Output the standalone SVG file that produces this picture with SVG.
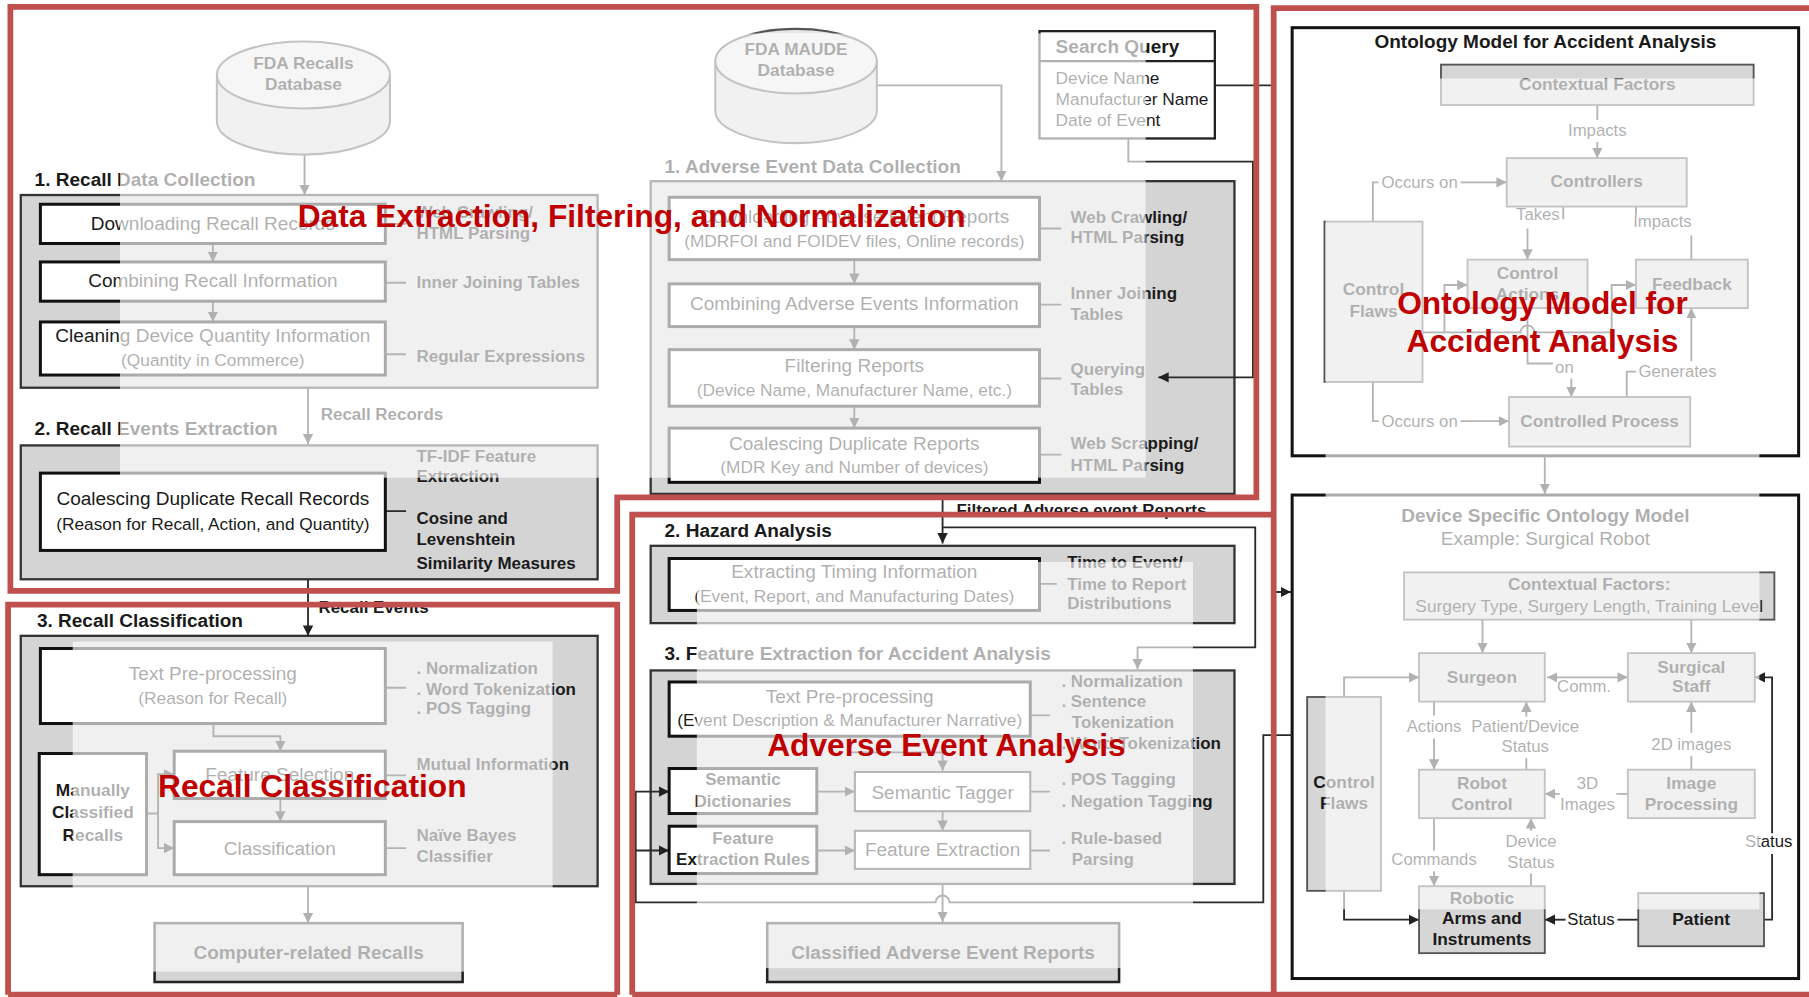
<svg xmlns="http://www.w3.org/2000/svg" width="1809" height="997" viewBox="0 0 1809 997">
<defs>
<marker id="ah" viewBox="0 0 10 10" refX="10" refY="5" markerWidth="9" markerHeight="9" markerUnits="userSpaceOnUse" orient="auto-start-reverse"><path d="M0,0 L10,5 L0,10 z" fill="#222"/></marker>
<style>
.t{font-family:"Liberation Sans",Arial,Helvetica,sans-serif;fill:#1a1a1a}
.c{text-anchor:middle}
.p{font-size:16.5px}
.ps{font-size:15px}
.s{font-size:14.7px;font-weight:bold}
.h{font-size:16.5px;font-weight:bold}
.n{font-size:15px;font-weight:bold}
.e{font-size:14.5px}
.ctr{fill:#d4d4d4;stroke:#333;stroke-width:2}
.box{fill:#fff;stroke:#333;stroke-width:1.8}
.bbox{fill:#fff;stroke:#111;stroke-width:2.6}
.gbox{fill:#d4d4d4;stroke:#222;stroke-width:2.2}
.on{fill:#d6d6d6;stroke:#555;stroke-width:1.6}
.ob{fill:none;stroke:#111;stroke-width:2.6}
.ln{fill:none;stroke:#2a2a2a;stroke-width:1.6}
.la{fill:none;stroke:#2a2a2a;stroke-width:1.6;marker-end:url(#ah)}
.ov{fill:#fff;fill-opacity:0.65}
.rf{fill:none;stroke:#c0504d;stroke-width:5}
.rt{font-family:"Liberation Sans",Arial,Helvetica,sans-serif;font-weight:bold;font-size:27.5px;fill:#c00000}
</style>
</defs>
<rect width="1809" height="997" fill="#fff"/>
<g transform="scale(1.15370 1.15394)">

<!-- section containers (drawn first so connectors stay visible) -->
<g id="recall-data-collection">
<text class="t h" x="30" y="161">1. Recall Data Collection</text>
<rect class="ctr" x="18" y="169" width="500" height="167"/>
</g>
<g id="recall-events-extraction">
<text class="t h" x="30" y="377">2. Recall Events Extraction</text>
<rect class="ctr" x="18" y="386" width="500" height="116"/>
</g>
<g id="recall-classification">
<text class="t h" x="32" y="543">3. Recall Classification</text>
<rect class="ctr" x="18" y="551" width="500" height="217"/>
</g>
<g id="adverse-event-data-collection">
<text class="t h" x="576" y="150">1. Adverse Event Data Collection</text>
<rect class="ctr" x="564" y="157" width="506" height="271"/>
</g>
<g id="hazard-analysis">
<text class="t h" x="576" y="465">2. Hazard Analysis</text>
<rect class="ctr" x="564" y="473" width="506" height="67"/>
</g>
<g id="feature-extraction-section">
<text class="t h" x="576" y="572">3. Feature Extraction for Accident Analysis</text>
<rect class="ctr" x="564" y="581" width="506" height="185"/>
</g>
<g id="ontology-model">
<rect class="ob" x="1120" y="24" width="439" height="371"/>
<text class="t c h" x="1339.5" y="42">Ontology Model for Accident Analysis</text>
</g>
<g id="device-specific-ontology">
<rect class="ob" x="1120" y="429" width="439" height="419"/>
<text class="t c h" x="1339.5" y="452">Device Specific Ontology Model</text>
<text class="t c p" x="1339.5" y="472">Example: Surgical Robot</text>
</g>

<g id="connectors">
<!-- recall column -->
<path class="la" d="M264,134 V169"/>
<path class="la" d="M184.5,211 V227"/>
<path class="la" d="M184.5,261 V279"/>
<path class="ln" d="M334,194 H352 M334,245 H352 M334,307 H352 M334,443 H352 M334,596 H352 M334,672 H352 M334,735 H352"/>
<path class="la" d="M267,336 V385"/>
<path class="la" d="M267,502 V551"/>
<path class="la" d="M185,627 V638 H243 V651"/>
<path class="la" d="M243,692 V712"/>
<path class="la" d="M127,705 H137 V671 H151"/>
<path class="la" d="M137,705 V735 H151"/>
<path class="la" d="M267,768 V800"/>
<!-- adverse event column -->
<path class="la" d="M760,74 H868 V157"/>
<path class="la" d="M740.5,225 V246"/>
<path class="la" d="M740.5,283 V303"/>
<path class="la" d="M740.5,352 V371"/>
<path class="ln" d="M901,198 H920 M901,264 H920 M901,328 H920 M901,394 H920 M901,506 H916 M893,620 H910 M893,686 H910 M893,737 H910"/>
<path class="la" d="M978,120 V140 H1086 V327 H1004"/>
<path class="la" d="M1053,74 H1104 V513 H1119"/>
<path class="la" d="M817,428 V471"/>
<path class="la" d="M817,457 H1088 V561 H986 V580"/>
<path class="la" d="M737,638 V652 H817 V668"/>
<path class="la" d="M708,686 H741"/>
<path class="la" d="M817,703 V720"/>
<path class="la" d="M708,737 H741"/>
<path class="la" d="M1120,637 H1095 V782 H823 A6,6 0 0 0 811,782 H551 V686 H580"/>
<path class="la" d="M551,737 H580"/>
<path class="la" d="M817,766 V799"/>
<!-- ontology model -->
<path class="ln" d="M1384.5,91 V104"/>
<path class="la" d="M1384.5,123 V137"/>
<path class="ln" d="M1190,192 V158 H1195"/>
<path class="la" d="M1266,158 H1306"/>
<path class="ln" d="M1355,164 V190"/>
<path class="la" d="M1324,198 V225"/>
<path class="ln" d="M1466,225 V204"/>
<path class="la" d="M1418,186 V166"/>
<path class="la" d="M1233,288 H1252 V247 H1272"/>
<path class="la" d="M1252,288 H1318 A6,6 0 0 1 1330,288 H1397 V247 H1418"/>
<path class="ln" d="M1324,267 V315 H1346"/>
<path class="la" d="M1362,328 V344"/>
<path class="ln" d="M1410,344 V322 H1418"/>
<path class="la" d="M1466,313 V267"/>
<path class="ln" d="M1190,331 V365 H1195"/>
<path class="la" d="M1266,365 H1308"/>
<path class="la" d="M1339,395 V428"/>
<!-- device specific model -->
<path class="la" d="M1285,537 V566"/>
<path class="la" d="M1466,537 V566"/>
<path class="la" d="M1341,587 H1411" marker-start="url(#ah)"/>
<path class="la" d="M1165,604 V587 H1230"/>
<path class="la" d="M1165,772 V797 H1230"/>
<path class="ln" d="M1243,608 V620"/>
<path class="la" d="M1243,640 V667"/>
<path class="ln" d="M1323,667 V657"/>
<path class="la" d="M1323,621 V608"/>
<path class="ln" d="M1466,667 V655"/>
<path class="la" d="M1466,635 V608"/>
<path class="ln" d="M1411,688 H1401"/>
<path class="la" d="M1352,688 H1339"/>
<path class="ln" d="M1243,709 V737"/>
<path class="la" d="M1243,755 V768"/>
<path class="ln" d="M1327,768 V757"/>
<path class="la" d="M1327,720 V709"/>
<path class="ln" d="M1420,797 H1402"/>
<path class="la" d="M1357,797 H1339"/>
<path class="ln" d="M1529,797 H1536 V740"/>
<path class="la" d="M1536,722 V587 H1521"/>
</g>

<g id="fda-recalls-database">
<path d="M188,65 V105 A75,29 0 0 0 338,105 V65" fill="#d8d8d8" stroke="#555" stroke-width="1.8"/>
<ellipse cx="263" cy="65" rx="75" ry="29" fill="#e6e6e6" stroke="#555" stroke-width="1.8"/>
<text class="t c n" x="263" y="60">FDA Recalls</text>
<text class="t c n" x="263" y="78">Database</text>
</g>
<g id="downloading-recall-records">
<rect class="bbox" x="35" y="177" width="299" height="34"/>
<text class="t c p" x="184.5" y="199">Downloading Recall Records</text>
<text class="t s" x="361" y="189">Web Crawling/</text>
<text class="t s" x="361" y="207">HTML Parsing</text>
</g>
<g id="combining-recall-information">
<rect class="bbox" x="35" y="227" width="299" height="34"/>
<text class="t c p" x="184.5" y="249">Combining Recall Information</text>
<text class="t s" x="361" y="250">Inner Joining Tables</text>
</g>
<g id="cleaning-device-quantity">
<rect class="bbox" x="35" y="279" width="299" height="46"/>
<text class="t c p" x="184.5" y="296">Cleaning Device Quantity Information</text>
<text class="t c ps" x="184.5" y="317">(Quantity in Commerce)</text>
<text class="t s" x="361" y="314">Regular Expressions</text>
</g>
<text class="t s" x="278" y="364">Recall Records</text>
<g id="coalescing-recall-records">
<rect class="bbox" x="35" y="410" width="299" height="67"/>
<text class="t c p" x="184.5" y="438">Coalescing Duplicate Recall Records</text>
<text class="t c ps" x="184.5" y="459">(Reason for Recall, Action, and Quantity)</text>
<text class="t s" x="361" y="400">TF-IDF Feature</text>
<text class="t s" x="361" y="418">Extraction</text>
<text class="t s" x="361" y="454">Cosine and</text>
<text class="t s" x="361" y="472">Levenshtein</text>
<text class="t s" x="361" y="493">Similarity Measures</text>
</g>
<text class="t s" x="276" y="531">Recall Events</text>
<g id="text-preprocessing-recall">
<rect class="bbox" x="35" y="562" width="299" height="65"/>
<text class="t c p" x="184.5" y="589">Text Pre-processing</text>
<text class="t c ps" x="184.5" y="610">(Reason for Recall)</text>
<text class="t s" x="361" y="584">. Normalization</text>
<text class="t s" x="361" y="602">. Word Tokenization</text>
<text class="t s" x="361" y="619">. POS Tagging</text>
</g>
<g id="manually-classified-recalls">
<rect class="bbox" x="34" y="653" width="93" height="105"/>
<text class="t c n" x="80.5" y="690">Manually</text>
<text class="t c n" x="80.5" y="709">Classified</text>
<text class="t c n" x="80.5" y="729">Recalls</text>
</g>
<g id="feature-selection">
<rect class="bbox" x="151" y="651" width="183" height="41"/>
<text class="t c p" x="242.5" y="677">Feature Selection</text>
<text class="t s" x="361" y="667">Mutual Information</text>
</g>
<g id="classification">
<rect class="bbox" x="151" y="712" width="183" height="46"/>
<text class="t c p" x="242.5" y="741">Classification</text>
<text class="t s" x="361" y="729">Naïve Bayes</text>
<text class="t s" x="361" y="747">Classifier</text>
</g>
<g id="computer-related-recalls">
<rect class="gbox" x="134" y="800" width="267" height="51"/>
<text class="t c h" x="267.5" y="831">Computer-related Recalls</text>
</g>

<g id="fda-maude-database">
<path d="M620,53 V96 A70,28 0 0 0 760,96 V53" fill="#d8d8d8" stroke="#555" stroke-width="1.8"/>
<ellipse cx="690" cy="53" rx="70" ry="28" fill="#e6e6e6" stroke="#555" stroke-width="1.8"/>
<text class="t c n" x="690" y="48">FDA MAUDE</text>
<text class="t c n" x="690" y="66">Database</text>
</g>
<g id="search-query">
<rect x="901" y="27" width="152" height="93" fill="#fff" stroke="#222" stroke-width="2"/>
<path d="M901,53 H1053" stroke="#222" stroke-width="2"/>
<text class="t h" x="915" y="46">Search Query</text>
<text class="t ps" x="915" y="73">Device Name</text>
<text class="t ps" x="915" y="91">Manufacturer Name</text>
<text class="t ps" x="915" y="109">Date of Event</text>
</g>
<g id="downloading-adverse-event-reports">
<rect class="bbox" x="580" y="171" width="321" height="54"/>
<text class="t c p" x="740.5" y="193">Downloading Adverse Event Reports</text>
<text class="t c ps" x="740.5" y="214">(MDRFOI and FOIDEV files, Online records)</text>
<text class="t s" x="928" y="193">Web Crawling/</text>
<text class="t s" x="928" y="211">HTML Parsing</text>
</g>
<g id="combining-adverse-events">
<rect class="bbox" x="580" y="246" width="321" height="37"/>
<text class="t c p" x="740.5" y="269">Combining Adverse Events Information</text>
<text class="t s" x="928" y="259">Inner Joining</text>
<text class="t s" x="928" y="277">Tables</text>
</g>
<g id="filtering-reports">
<rect class="bbox" x="580" y="303" width="321" height="49"/>
<text class="t c p" x="740.5" y="322">Filtering Reports</text>
<text class="t c ps" x="740.5" y="343">(Device Name, Manufacturer Name, etc.)</text>
<text class="t s" x="928" y="325">Querying</text>
<text class="t s" x="928" y="342">Tables</text>
</g>
<g id="coalescing-duplicate-reports">
<rect class="bbox" x="580" y="371" width="321" height="47"/>
<text class="t c p" x="740.5" y="390">Coalescing Duplicate Reports</text>
<text class="t c ps" x="740.5" y="410">(MDR Key and Number of devices)</text>
<text class="t s" x="928" y="389">Web Scrapping/</text>
<text class="t s" x="928" y="408">HTML Parsing</text>
</g>
<text class="t s" x="829" y="447">Filtered Adverse event Reports</text>
<g id="extracting-timing-information">
<rect class="bbox" x="580" y="484" width="321" height="45"/>
<text class="t c p" x="740.5" y="501">Extracting Timing Information</text>
<text class="t c ps" x="740.5" y="522">(Event, Report, and Manufacturing Dates)</text>
<text class="t s" x="925" y="492">Time to Event/</text>
<text class="t s" x="925" y="511">Time to Report</text>
<text class="t s" x="925" y="528">Distributions</text>
</g>
<g id="text-preprocessing-events">
<rect class="bbox" x="580" y="591" width="313" height="47"/>
<text class="t c p" x="736.5" y="609">Text Pre-processing</text>
<text class="t c ps" x="736.5" y="629">(Event Description &amp; Manufacturer Narrative)</text>
<text class="t s" x="920" y="595">. Normalization</text>
<text class="t s" x="920" y="613">. Sentence</text>
<text class="t s" x="929" y="631">Tokenization</text>
<text class="t s" x="920" y="649">. Word Tokenization</text>
</g>
<g id="semantic-dictionaries">
<rect class="bbox" x="580" y="666" width="128" height="39"/>
<text class="t c s" x="644" y="680">Semantic</text>
<text class="t c s" x="644" y="699">Dictionaries</text>
</g>
<g id="semantic-tagger">
<rect class="box" x="741" y="669" width="152" height="34"/>
<text class="t c p" x="817" y="692">Semantic Tagger</text>
<text class="t s" x="920" y="680">. POS Tagging</text>
<text class="t s" x="920" y="699">. Negation Tagging</text>
</g>
<g id="feature-extraction-rules">
<rect class="bbox" x="580" y="716" width="128" height="41"/>
<text class="t c s" x="644" y="731">Feature</text>
<text class="t c s" x="644" y="750">Extraction Rules</text>
</g>
<g id="feature-extraction">
<rect class="box" x="741" y="720" width="152" height="33"/>
<text class="t c p" x="817" y="742">Feature Extraction</text>
<text class="t s" x="920" y="731">. Rule-based</text>
<text class="t s" x="929" y="750">Parsing</text>
</g>
<g id="classified-adverse-event-reports">
<rect class="gbox" x="665" y="800" width="305" height="51"/>
<text class="t c h" x="817.5" y="831">Classified Adverse Event Reports</text>
</g>

<g id="contextual-factors">
<rect class="on" x="1249" y="56" width="271" height="35"/>
<text class="t c n" x="1384.5" y="78">Contextual Factors</text>
</g>
<text class="t c e" x="1384.5" y="118">Impacts</text>
<g id="controllers">
<rect class="on" x="1306" y="137" width="156" height="42"/>
<text class="t c n" x="1384" y="162">Controllers</text>
</g>
<text class="t c e" x="1230.5" y="163">Occurs on</text>
<text class="t c e" x="1333" y="191">Takes</text>
<text class="t c e" x="1441" y="197">Impacts</text>
<g id="control-flaws">
<rect class="on" x="1148" y="192" width="85" height="139"/>
<text class="t c n" x="1190.5" y="256">Control</text>
<text class="t c n" x="1190.5" y="275">Flaws</text>
</g>
<g id="control-actions">
<rect class="on" x="1272" y="225" width="104" height="42"/>
<text class="t c n" x="1324" y="242">Control</text>
<text class="t c n" x="1324" y="260">Actions</text>
</g>
<g id="feedback">
<rect class="on" x="1418" y="225" width="97" height="42"/>
<text class="t c n" x="1466.5" y="251">Feedback</text>
</g>
<text class="t c e" x="1356" y="323">on</text>
<text class="t c e" x="1454" y="327">Generates</text>
<text class="t c e" x="1230.5" y="370">Occurs on</text>
<g id="controlled-process">
<rect class="on" x="1308" y="344" width="157" height="43"/>
<text class="t c n" x="1386.5" y="370">Controlled Process</text>
</g>

<g id="contextual-factors-surgery">
<rect class="on" x="1217" y="496" width="321" height="41"/>
<text class="t c n" x="1377.5" y="511">Contextual Factors:</text>
<text class="t c ps" x="1377.5" y="530">Surgery Type, Surgery Length, Training Level</text>
</g>
<g id="surgeon">
<rect class="on" x="1230" y="566" width="109" height="42"/>
<text class="t c n" x="1284.5" y="592">Surgeon</text>
</g>
<g id="surgical-staff">
<rect class="on" x="1411" y="566" width="110" height="42"/>
<text class="t c n" x="1466" y="583">Surgical</text>
<text class="t c n" x="1466" y="600">Staff</text>
</g>
<text class="t c e" x="1373" y="600">Comm.</text>
<text class="t c e" x="1243" y="634">Actions</text>
<text class="t c e" x="1322" y="634">Patient/Device</text>
<text class="t c e" x="1322" y="652">Status</text>
<text class="t c e" x="1466" y="650">2D images</text>
<g id="control-flaws-device">
<rect class="on" x="1133" y="604" width="64" height="168"/>
<text class="t c n" x="1165" y="683">Control</text>
<text class="t c n" x="1165" y="701">Flaws</text>
</g>
<g id="robot-control">
<rect class="on" x="1230" y="667" width="109" height="42"/>
<text class="t c n" x="1284.5" y="684">Robot</text>
<text class="t c n" x="1284.5" y="702">Control</text>
</g>
<g id="image-processing">
<rect class="on" x="1411" y="667" width="110" height="42"/>
<text class="t c n" x="1466" y="684">Image</text>
<text class="t c n" x="1466" y="702">Processing</text>
</g>
<text class="t c e" x="1376" y="684">3D</text>
<text class="t c e" x="1376" y="702">Images</text>
<text class="t c e" x="1243" y="750">Commands</text>
<text class="t c e" x="1327" y="734">Device</text>
<text class="t c e" x="1327" y="752">Status</text>
<text class="t c e" x="1533" y="734">Status</text>
<g id="robotic-arms-instruments">
<rect class="on" x="1230" y="768" width="109" height="58"/>
<text class="t c n" x="1284.5" y="783">Robotic</text>
<text class="t c n" x="1284.5" y="801">Arms and</text>
<text class="t c n" x="1284.5" y="819">Instruments</text>
</g>
<g id="patient">
<rect class="on" x="1420" y="774" width="109" height="46"/>
<text class="t c n" x="1474.5" y="802">Patient</text>
</g>
<text class="t c e" x="1379" y="802">Status</text>

<g id="highlight-overlays">
<rect class="ov" x="104" y="29" width="889" height="385"/>
<rect class="ov" x="63" y="556" width="416" height="286"/>
<rect class="ov" x="604" y="487" width="430" height="352"/>
<rect class="ov" x="1149" y="68" width="376" height="720"/>
</g>

<g id="region-frames">
<polygon class="rf" points="9,6 1089,6 1089,431 535,431 535,512 9,512"/>
<path class="rf" d="M7,862 V524 H535 V862"/>
<path class="rf" d="M548,862 V446 H1104"/>
<path class="rf" d="M1575,7 H1104 V862"/>
<path class="rf" d="M7,862 H535 M548,862 H1575"/>
</g>
<g id="region-labels">
<text class="rt" x="258" y="197">Data Extraction, Filtering, and Normalization</text>
<text class="rt" x="137" y="691">Recall Classification</text>
<text class="rt" x="665" y="655">Adverse Event Analysis</text>
<text class="rt" x="1337" y="272" text-anchor="middle">Ontology Model for</text>
<text class="rt" x="1337" y="305" text-anchor="middle">Accident Analysis</text>
</g>
</g>
</svg>
